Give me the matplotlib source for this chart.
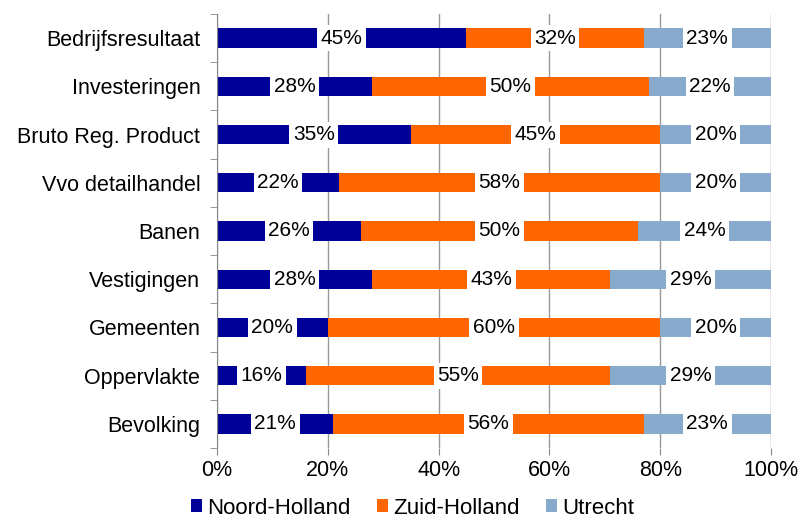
import matplotlib
matplotlib.use('Agg')
import matplotlib.pyplot as plt
import numpy as np

categories = ['Bedrijfsresultaat', 'Investeringen', 'Bruto Reg. Product',
              'Vvo detailhandel', 'Banen', 'Vestigingen', 'Gemeenten',
              'Oppervlakte', 'Bevolking']
noord_holland = [45, 28, 35, 22, 26, 28, 20, 16, 21]
zuid_holland = [32, 50, 45, 58, 50, 43, 60, 55, 56]
utrecht = [23, 22, 20, 20, 24, 29, 20, 29, 23]
series_names = ['Noord-Holland', 'Zuid-Holland', 'Utrecht']
colors = ['#000099', '#FF6600', '#88AACC']

plt.rcParams['font.family'] = ['Liberation Sans', 'DejaVu Sans']

fig = plt.figure(figsize=(8.03, 5.18), dpi=100)
ax = fig.add_axes([217 / 803, 1 - 448 / 518, (771 - 217) / 803, (448 - 14) / 518])

y = np.arange(len(categories))[::-1]
left = np.zeros(len(categories))
for name, vals, col in zip(series_names, [noord_holland, zuid_holland, utrecht], colors):
    vals = np.array(vals, dtype=float)
    ax.barh(y, vals, left=left, height=0.4, color=col, label=name, zorder=2)
    for yi, l, v in zip(y, left, vals):
        ax.text(l + v / 2, yi, '%d%%' % v, ha='center', va='center', fontsize=15,
                zorder=3, bbox=dict(facecolor='white', edgecolor='none', pad=2.5))
    left += vals

ax.set_xlim(0, 100)
ax.set_ylim(-0.5, len(categories) - 0.5)
ax.set_xticks(np.arange(0, 101, 20))
ax.set_xticklabels(['%d%%' % t for t in range(0, 101, 20)], fontsize=15.5)
ax.set_yticks(y)
ax.set_yticklabels(categories, fontsize=15.5)
ax.tick_params(axis='y', length=0, pad=12)
ax.set_yticks(np.arange(-0.5, len(categories), 1), minor=True)
ax.tick_params(axis='y', which='minor', length=5, color='#888888', direction='out')
ax.tick_params(axis='x', length=5, color='#888888', pad=4)
ax.grid(axis='x', color='#999999', linewidth=1, zorder=0)
for s in ['top', 'right', 'bottom']:
    ax.spines[s].set_visible(False)
ax.spines['left'].set_color('#888888')

fig.legend(loc='center left', bbox_to_anchor=(191 / 803, 1 - 508 / 518), ncol=3,
           frameon=False, fontsize=16, handlelength=0.5, handleheight=0.5,
           handletextpad=0.22, columnspacing=1.2, borderpad=0, borderaxespad=0)

fig.savefig('out.png', dpi=100)
